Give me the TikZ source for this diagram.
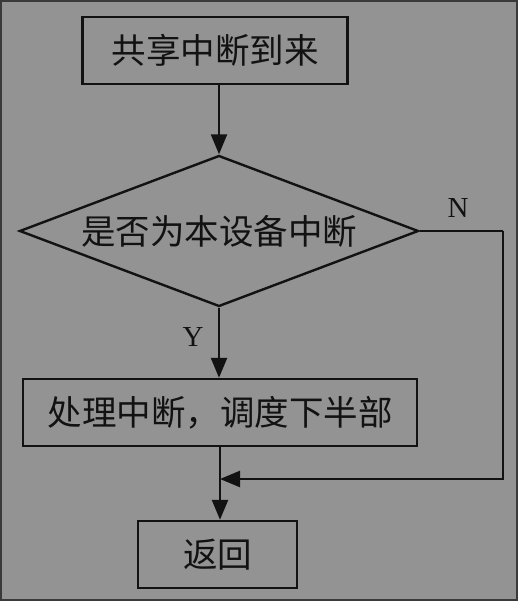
\documentclass[tikz,border=0pt]{standalone}
\usepackage{fontspec}
\setmainfont{Liberation Serif}
\newfontfamily\cjk{Noto Sans CJK SC}
\usetikzlibrary{arrows.meta,shapes.geometric}
\definecolor{chartBg}{HTML}{939393}
\definecolor{chartFrame}{HTML}{3A3A3A}
\definecolor{chartInk}{HTML}{121212}

\begin{document}
\begin{tikzpicture}[
    x=1pt,y=-1pt,
    every node/.style={font=\cjk\fontsize{34.5}{38}\selectfont,text=chartInk,inner sep=0pt},
    stepbox/.style={draw=chartInk,line width=2.4pt,minimum height=67pt},
    judge/.style={diamond,draw=chartInk,line width=2.4pt,minimum width=399pt,minimum height=151pt,aspect=2.64},
    tag/.style={font=\fontsize{29}{32}\selectfont},
    line/.style={draw=chartInk,line width=2.4pt},
    flow/.style={line,-{Triangle[length=20pt,width=16pt]}}
]
% grey page with its thin frame
\draw[fill=chartBg,draw=chartFrame,line width=2pt] (1,1) rectangle (517,600);
\useasboundingbox (0,0) rectangle (518,601);
\node[stepbox,minimum width=265pt] (share) at (215,50.5) {共享中断到来};
\node[judge] (check) at (219,231) {是否为本设备中断};
\node[stepbox,minimum width=394pt] (handle) at (220,412.5) {处理中断，调度下半部};
\node[stepbox,minimum width=159pt] (ret) at (217.5,554.5) {返回};
\coordinate (corner) at (503,231);
\coordinate (merge) at (220,479);
\node[tag] (yes) at (193,337) {Y};
\node[tag] (no) at (458,208) {N};
\draw[flow] (share.south -| check.north) -- (check.north);
\draw[flow] (check.south) -- (check.south |- handle.north);
\draw[line] (check.east) -- (corner);
\draw[flow] (corner) |- (merge);
\draw[flow] (handle.south -| merge) -- (merge |- ret.north);
\end{tikzpicture}
\end{document}
